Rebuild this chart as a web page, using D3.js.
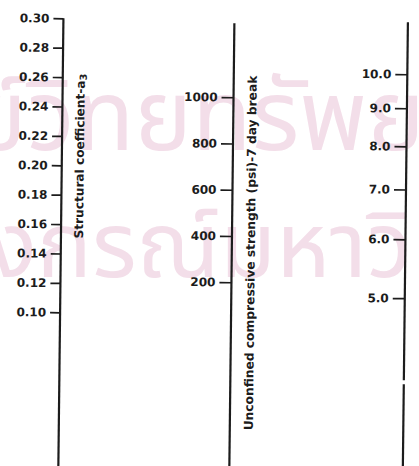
<!DOCTYPE html>
<html>
<head>
<meta charset="utf-8">
<script src="https://cdn.jsdelivr.net/npm/d3@7"></script>
<style>
  html, body { margin: 0; padding: 0; background: #fff; overflow: hidden; }
  svg { display: block; }
</style>
</head>
<body>
<svg id="chart" width="419" height="466"></svg>
<script>
// Scale values for the three nomograph axes
const coefTicks = [0.30, 0.28, 0.26, 0.24, 0.22, 0.20, 0.18, 0.16, 0.14, 0.12, 0.10];
const strengthTicks = [200, 400, 600, 800, 1000];
const modulusTicks = [5.0, 6.0, 7.0, 8.0, 9.0, 10.0];

const coefTitle = "Structural coefficient-a";
const coefTitleSub = "3";
const strengthTitle = "Unconfined compressive strength (psi)-7 day break";
const watermarkLines = ["ศูนย์วิทยทรัพยากร", "จุฬาลงกรณ์มหาวิทยาลัย"];

const W = 419, H = 466;
const ink = "#1c1c1c";
const svg = d3.select("#chart");

svg.append("rect").attr("width", W).attr("height", H).attr("fill", "#fff");

// Library watermark behind the drawing
const wmFont = "'Noto Sans Thai', 'Noto Sans', sans-serif";
const wm = svg.append("g").attr("fill", "#f3dee9").attr("font-family", wmFont);

function prefixWidth(s, size) {
  const t = svg.append("text").attr("font-family", wmFont)
    .attr("font-size", size).attr("visibility", "hidden").text(s);
  const w = s.length ? t.node().getComputedTextLength() : 0;
  t.remove();
  return w;
}
function placeWatermark(text, baseline, iA, xA, iB, xB) {
  const a = prefixWidth(text.slice(0, iA), 100);
  const b = prefixWidth(text.slice(0, iB), 100);
  const size = 100 * (xB - xA) / (b - a);
  const a2 = prefixWidth(text.slice(0, iA), size);
  wm.append("text").attr("x", xA - a2).attr("y", baseline)
    .attr("font-size", size).text(text);
}
placeWatermark(watermarkLines[0], 150, 5, 27, 13, 367);
placeWatermark(watermarkLines[1], 277, 6, 37, 13, 367);

// Drawing, with the slight tilt of the printed page
const g = svg.append("g").attr("transform", "rotate(0.65,210,233)");

const yCoef = d3.scaleLinear().domain([0.10, 0.30]).range([314, 20]);
const yStrength = d3.scaleLinear().domain([200, 1000]).range([282, 97]);
const yMod = d3.scaleLog().domain([5, 10]).range([296, 72]);

const xCoef = 61, xStrength = 232, xMod = 405.5;
const bottom = 490;

function drawAxis(x, scale, ticks, fmt, size, top, segments) {
  const ax = g.append("g").attr("transform", `translate(${x},0)`)
    .call(d3.axisLeft(scale).tickValues(ticks).tickFormat(fmt)
      .tickSize(size).tickPadding(4));
  ax.select(".domain").remove();
  ax.selectAll(".tick line").attr("stroke", ink).attr("stroke-width", 1.7);
  ax.selectAll(".tick text")
    .attr("fill", ink)
    .attr("font-family", "'DejaVu Sans', sans-serif")
    .attr("font-weight", "bold")
    .attr("font-size", 12);
  (segments || [[top, bottom]]).forEach(([y0, y1]) => {
    ax.append("line").attr("x1", 0).attr("x2", 0).attr("y1", y0).attr("y2", y1)
      .attr("stroke", ink).attr("stroke-width", 2.2);
  });
  return ax;
}

drawAxis(xCoef, yCoef, coefTicks, d3.format(".2f"), 10, yCoef(0.30));
drawAxis(xStrength, yStrength, strengthTicks, d3.format("d"), 12, 23);
drawAxis(xMod, yMod, modulusTicks, d3.format(".1f"), 12, 20, [[20, 378], [382, bottom]]);

// Rotated scale titles, fitted to their printed length
function title(xBase, yFrom, yTo, build) {
  const t = g.append("text")
    .attr("transform", `translate(${xBase},${(yFrom + yTo) / 2}) rotate(-90)`)
    .attr("text-anchor", "middle")
    .attr("fill", ink)
    .attr("font-family", "'DejaVu Sans', sans-serif")
    .attr("font-weight", "bold")
    .attr("font-size", 10);
  build(t);
  const len = t.node().getComputedTextLength();
  t.attr("font-size", 10 * (yFrom - yTo) / len);
}
title(83, 240, 75, t => {
  t.append("tspan").text(coefTitle);
  t.append("tspan").attr("dy", 2).attr("font-size", "0.8em").text(coefTitleSub);
});
title(255, 430, 75, t => t.text(strengthTitle));
</script>
</body>
</html>
